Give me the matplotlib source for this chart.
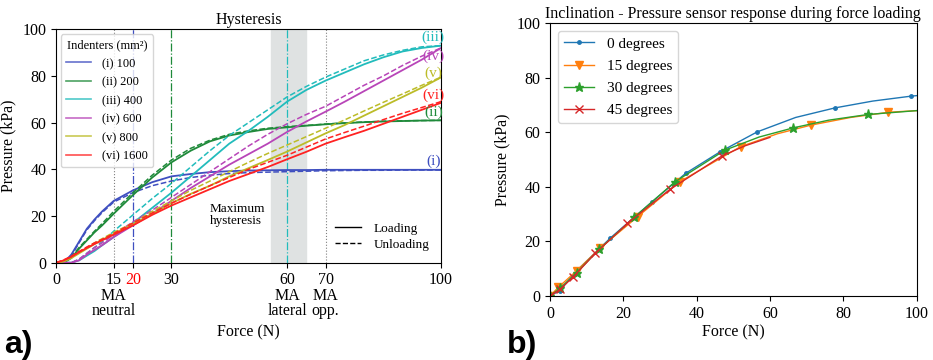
import matplotlib.pyplot as plt
from matplotlib.lines import Line2D
import matplotlib.transforms as mtransforms

plt.rcParams['font.family'] = ['Liberation Serif', 'DejaVu Serif']

# ---- panel a: hysteresis, loading (solid) / unloading (dashed)
force = [0, 2, 4, 6, 8, 10, 12, 15, 20, 25, 30, 35, 40, 45, 50, 55, 60, 65, 70, 75, 80, 85, 90, 95, 100]

i_load = [0, 0, 3.5, 9, 14.5, 18.5, 22, 26.5, 31, 34.5, 37, 38, 38.8, 39.2, 39.5, 39.6, 39.7, 39.7, 39.8, 39.8, 39.8, 39.8, 39.8, 39.8, 39.8]
i_unload = [0, 0, 3, 8.5, 14, 18, 21.5, 26, 30, 33, 35, 36.5, 37.5, 38.2, 38.6, 38.8, 39, 39.2, 39.4, 39.5, 39.6, 39.6, 39.7, 39.7, 39.7]
ii_load = [0, 0, 2, 6, 9.5, 13, 16, 21, 29, 36.5, 43, 48, 52, 54.5, 56, 57.3, 58, 58.7, 59.3, 59.8, 60.2, 60.5, 60.7, 60.9, 61]
ii_unload = [0, 0, 2.5, 6.5, 10, 13.5, 16.8, 22, 30, 37.5, 44, 49, 52.5, 55, 56.5, 57.6, 58.3, 58.8, 59.4, 59.9, 60.3, 60.6, 60.8, 60.9, 61]
iii_load = [0, 0, 0, 1, 3, 5, 7.5, 11, 17, 23.5, 30, 37, 44, 51, 56.5, 62.5, 69, 74, 78, 81.5, 85, 88, 90.5, 92, 93]
iii_unload = [0, 0, 0, 1.5, 4, 6.5, 9, 13.5, 20.5, 27.5, 34, 41, 48, 54.5, 60, 65.5, 71, 75.5, 79.5, 83, 86.5, 89, 91, 92.5, 93]
iv_load = [0, 0, 0, 1, 3.5, 5.5, 7.5, 11, 16, 21, 26.5, 32, 37, 42, 46.5, 51, 56, 60.5, 64.7, 69, 73.5, 78, 82.5, 87, 92]
iv_unload = [0, 0, 0, 1.5, 4, 6.5, 8.5, 12, 17.5, 22.5, 28, 33.5, 39, 44.5, 50, 55, 59.5, 63.5, 67, 71.5, 76, 80, 84.5, 88.5, 92]
v_load = [0, 0.5, 2, 4, 6, 8, 9.8, 12.3, 16.5, 21, 25.5, 29.5, 33, 37, 40.5, 44, 47.6, 51.5, 55.4, 59, 63, 67, 71, 75, 79.4]
v_unload = [0, 0.5, 2.3, 4.5, 6.5, 8.5, 10.3, 13, 17, 22, 26.5, 31, 35, 39, 43, 46.8, 50.4, 54, 57.6, 61.2, 65, 68.7, 72.3, 76, 79.5]
vi_load = [0, 1, 2.5, 4.5, 6.3, 8, 9.6, 12, 16, 20.5, 24.5, 28, 31.5, 35, 38, 41, 44.3, 47.5, 51, 53.8, 56.5, 59.5, 62.5, 65.5, 68.5]
vi_unload = [0, 1.2, 2.8, 4.8, 6.7, 8.5, 10, 12.5, 17, 21.3, 25.5, 29.3, 33, 36.5, 40, 43, 46, 49.5, 53, 55.8, 58.5, 61.3, 64, 66.5, 69]

indenter_labels = ['(i) 100', '(ii) 200', '(iii) 400', '(iv) 600', '(v) 800', '(vi) 1600']
tags = ['(i)', '(ii)', '(iii)', '(iv)', '(v)', '(vi)']
tag_y = [43.5, 64.6, 96.7, 88.4, 81.2, 71.8]
colors = ['#3f4fc0', '#1f8a3a', '#22bcbc', '#b845b8', '#bcbc28', '#ff2222']
loading = [i_load, ii_load, iii_load, iv_load, v_load, vi_load]
unloading = [i_unload, ii_unload, iii_unload, iv_unload, v_unload, vi_unload]

xticks_a = [0, 15, 20, 30, 60, 70, 100]
ma_x = [15, 60, 70]
ma_labels = ['MA\nneutral', 'MA\nlateral', 'MA\nopp.']

# ---- panel b: inclination
f0 = [0, 2.7, 7.7, 16.4, 27.7, 37, 46.4, 56.5, 67, 77.7, 88, 98.4, 100]
p0 = [0, 2, 9.8, 21.2, 34.4, 45, 52.9, 60.2, 65.5, 69, 71.5, 73.3, 73.5]
mk0 = [0, 1, 2, 3, 4, 5, 6, 7, 9, 11]
f15 = [0, 2.3, 7.3, 13.6, 23.9, 35.5, 52, 62, 71.2, 82, 92.3, 100]
p15 = [0, 3.2, 9.3, 17.5, 29.1, 42, 54.8, 59.5, 62.7, 65.5, 67.4, 68]
mk15 = [0, 1, 2, 3, 4, 5, 6, 8, 10]
f30 = [0, 2.7, 7.3, 13.4, 23, 34.1, 47.7, 57, 66.4, 76, 86.8, 100]
p30 = [0, 2.8, 8.6, 17.1, 28.9, 41.9, 53.5, 58.3, 61.7, 64.5, 66.6, 68]
mk30 = [0, 1, 2, 3, 4, 5, 6, 8, 10]
f45 = [0, 2.7, 6.4, 12.3, 21.1, 32.7, 46.8, 53, 60]
p45 = [0, 2.4, 7.1, 15.6, 26.6, 39.1, 51.3, 55, 58.2]
mk45 = [0, 1, 2, 3, 4, 5, 6]

fig = plt.figure(figsize=(9.33, 3.6), dpi=100)
ax1 = fig.add_axes([0.060, 0.2703, 0.4127, 0.6483])
ax2 = fig.add_axes([0.5895, 0.1778, 0.393, 0.7572])

# shaded band and reference lines
ax1.axvspan(55.8, 64.9, color='#dfe2e2', zorder=0)
ax1.axvline(15, color='gray', ls=':', lw=0.8)
ax1.axvline(70, color='gray', ls=':', lw=0.8)
ax1.axvline(20, color=colors[0], ls='-.', lw=0.9)
ax1.axvline(30, color=colors[1], ls='-.', lw=0.9)
ax1.axvline(60, color=colors[2], ls='-.', lw=0.9)

for c, yl, yu in zip(colors, loading, unloading):
    ax1.plot(force, yl, color=c, lw=1.3)
    ax1.plot(force, yu, color=c, lw=1.1, ls='--')

for c, t, ty in zip(colors, tags, tag_y):
    ax1.text(98, ty, t, color=c, ha='center', va='center', fontsize=11, clip_on=False)

ax1.text(40, 20.5, 'Maximum\nhysteresis', fontsize=9.5, va='center', linespacing=1.0)

ax1.set_xlim(0, 100)
ax1.set_ylim(0, 100)
ax1.set_xticks(xticks_a)
ax1.set_xticklabels([str(v) for v in xticks_a])
ax1.get_xticklabels()[2].set_color('red')
ax1.set_yticks([0, 20, 40, 60, 80, 100])
ax1.tick_params(labelsize=11.5)

# the "MA" notes under some ticks
trans = mtransforms.blended_transform_factory(ax1.transData, ax1.transAxes)
for mx, ml in zip(ma_x, ma_labels):
    ax1.text(mx, -0.108, ml, transform=trans, ha='center', va='top', fontsize=11.5,
             linespacing=0.95)

ax1.set_xlabel('Force (N)', fontsize=11.5, labelpad=26)
ax1.set_ylabel('Pressure (kPa)', fontsize=11.5)
ax1.set_title('Hysteresis', fontsize=11.5, pad=4)

leg_handles = [Line2D([], [], color=c, lw=1.2, alpha=0.8) for c in colors]
leg1 = ax1.legend(leg_handles, indenter_labels, title='Indenters (mm²)', loc='upper left',
                  fontsize=9, title_fontsize=9, handlelength=2.0, labelspacing=0.52,
                  borderaxespad=0.4, handletextpad=0.9)
ax1.add_artist(leg1)
style_handles = [Line2D([], [], color='k', lw=1), Line2D([], [], color='k', lw=1, ls='--')]
ax1.legend(style_handles, ['Loading', 'Unloading'], loc='lower right', frameon=False,
           fontsize=9.5, handlelength=2.0, labelspacing=0.3, handletextpad=0.9,
           bbox_to_anchor=(1.0, 0.0))

# panel b
ax2.plot(f0, p0, color='C0', marker='.', ms=5, lw=1, markevery=mk0, label='0 degrees')
ax2.plot(f15, p15, color='C1', marker='v', ms=6, lw=1, markevery=mk15, label='15 degrees')
ax2.plot(f30, p30, color='C2', marker='*', ms=6.5, lw=1, markevery=mk30, label='30 degrees')
ax2.plot(f45, p45, color='C3', marker='x', ms=5.5, lw=1, markevery=mk45, label='45 degrees')
ax2.set_xlim(0, 100)
ax2.set_ylim(0, 100)
ax2.set_xticks([0, 20, 40, 60, 80, 100])
ax2.set_yticks([0, 20, 40, 60, 80, 100])
ax2.tick_params(labelsize=11.5)
ax2.set_xlabel('Force (N)', fontsize=11.5, labelpad=2)
ax2.set_ylabel('Pressure (kPa)', fontsize=11.5)
ax2.set_title('Inclination - Pressure sensor response during force loading', fontsize=11.5, pad=4)
ax2.legend(loc='upper left', fontsize=11, handlelength=2.0, handletextpad=0.8, labelspacing=0.55)

fig.text(0.004, 0.02, 'a)', fontsize=23, fontweight='bold', family='Liberation Sans')
fig.text(0.543, 0.02, 'b)', fontsize=23, fontweight='bold', family='Liberation Sans')

fig.savefig('out.png', dpi=100)
